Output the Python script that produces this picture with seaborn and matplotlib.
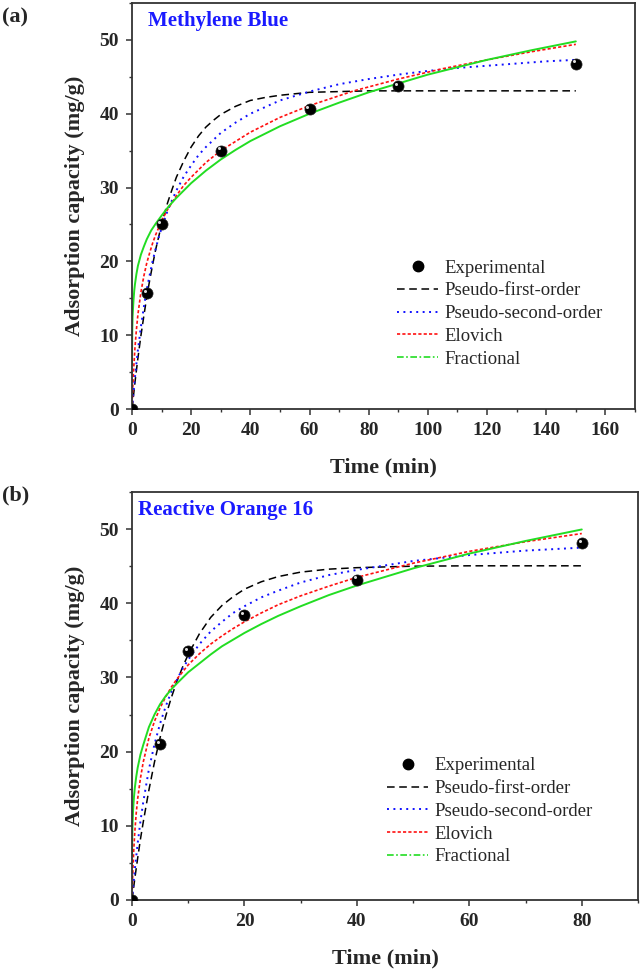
import matplotlib
matplotlib.use("Agg")
import matplotlib.pyplot as plt
import matplotlib.transforms as mtransforms
from matplotlib.lines import Line2D
from matplotlib.ticker import MultipleLocator
import seaborn as sns

sns.set_theme(style="ticks")
plt.rcParams['font.family'] = ['Liberation Serif', 'DejaVu Serif']
plt.rcParams['font.weight'] = 'bold'

# ---- panel (a): Methylene Blue ----
a_exp_t = [0, 5, 10, 30, 60, 90, 150]
a_exp_q = [0, 15.7, 25.0, 35.0, 40.6, 43.7, 46.8]

a_pfo_t = [0, 0.5, 1, 2, 3, 4, 5, 6, 7, 8, 9, 10, 11, 12, 13.5, 15, 17.5, 20, 22.5, 25,
           27.5, 30, 35, 40, 45, 50, 55, 60, 70, 80, 90, 110, 130, 150]
a_pfo_q = [0, 1.8, 3.6, 6.9, 9.9, 12.6, 15.2, 17.5, 19.6, 21.6, 23.3, 25.0, 26.5, 27.9,
           29.7, 31.4, 33.6, 35.5, 37.0, 38.2, 39.1, 39.9, 41.0, 41.8, 42.2, 42.5, 42.7,
           42.9, 43.0, 43.1, 43.1, 43.1, 43.1, 43.1]

a_pso_t = [0, 0.5, 1, 1.5, 2, 3, 4, 5, 6, 7, 8, 9, 10, 11.5, 13, 15, 17.5, 20, 22.5, 25,
           30, 35, 40, 45, 50, 60, 70, 80, 90, 100, 110, 120, 130, 140, 150]
a_pso_q = [0, 2.3, 4.3, 6.2, 8.0, 11.1, 13.8, 16.2, 18.2, 20.1, 21.7, 23.2, 24.5, 26.3,
           27.8, 29.6, 31.5, 33.0, 34.4, 35.5, 37.4, 38.8, 40.0, 40.9, 41.8, 43.0, 44.0,
           44.7, 45.3, 45.8, 46.2, 46.5, 46.8, 47.1, 47.3]

a_elo_t = [0, 0.25, 0.5, 1, 1.5, 2, 3, 4, 5, 6, 7, 8, 10, 12, 15, 17.5, 20, 25, 30, 40,
           50, 60, 75, 90, 105, 120, 135, 150]
a_elo_q = [0, 2.8, 5.0, 8.3, 10.8, 12.8, 15.8, 18.0, 19.8, 21.2, 22.5, 23.6, 25.5, 27.0,
           28.9, 30.3, 31.4, 33.4, 35.0, 37.5, 39.5, 41.1, 43.1, 44.7, 46.1, 47.3, 48.4, 49.4]

a_frac_t = [0.01, 0.03, 0.06, 0.1, 0.2, 0.34, 0.5, 0.75, 1, 1.5, 2, 3, 4, 5, 6.5, 8, 10,
            12.5, 15, 17.5, 20, 25, 30, 35, 40, 50, 60, 70, 80, 90, 100, 110, 120, 135, 150]
a_frac_q = [6.0, 8.0, 9.6, 10.8, 12.5, 13.6, 14.7, 16.0, 16.9, 18.3, 19.4, 20.9, 22.0,
            23.0, 24.2, 25.1, 26.2, 27.5, 28.6, 29.6, 30.6, 32.3, 33.8, 35.1, 36.3, 38.3,
            40.0, 41.5, 42.9, 44.1, 45.3, 46.3, 47.3, 48.6, 49.8]

# ---- panel (b): Reactive Orange 16 ----
b_exp_t = [0, 5, 10, 20, 40, 80]
b_exp_q = [0, 21.0, 33.6, 38.4, 43.2, 48.1]

b_pfo_t = [0, 0.5, 1, 1.5, 2, 3, 4, 5, 6, 7, 8, 9, 10, 12, 14, 16, 18, 20, 23, 26, 30,
           35, 40, 50, 60, 70, 80]
b_pfo_q = [0, 2.9, 5.6, 8.2, 10.5, 14.8, 18.6, 21.9, 24.8, 27.3, 29.5, 31.4, 33.1, 35.9,
           38.1, 39.7, 40.9, 41.9, 42.9, 43.6, 44.2, 44.6, 44.8, 45.0, 45.05, 45.05, 45.05]

b_pso_t = [0, 0.25, 0.5, 1, 1.5, 2, 3, 4, 5, 6, 7, 8, 9, 10, 12, 14, 16, 18, 20, 23, 26,
           30, 35, 40, 50, 60, 70, 80]
b_pso_q = [0, 2.1, 4.1, 7.6, 10.6, 13.2, 17.6, 21.0, 23.8, 26.1, 28.1, 29.7, 31.2, 32.4,
           34.5, 36.2, 37.5, 38.7, 39.6, 40.8, 41.7, 42.8, 43.8, 44.5, 45.7, 46.5, 47.1, 47.5]

b_elo_t = [0, 0.05, 0.1, 0.2, 0.35, 0.5, 0.75, 1, 1.5, 2, 3, 4, 5, 6, 7, 8, 10, 12, 14,
           16, 18, 20, 23, 26, 30, 35, 40, 50, 60, 70, 80]
b_elo_q = [0, 1.5, 2.8, 4.9, 7.3, 9.2, 11.7, 13.6, 16.4, 18.6, 21.8, 24.1, 25.9, 27.4,
           28.7, 29.8, 31.7, 33.2, 34.5, 35.6, 36.6, 37.5, 38.7, 39.8, 41.0, 42.3, 43.5,
           45.4, 47.0, 48.3, 49.4]

b_frac_t = [0.01, 0.03, 0.06, 0.1, 0.2, 0.35, 0.5, 0.75, 1, 1.5, 2, 3, 4, 5, 6, 7, 8, 10,
            12, 14, 16, 18, 20, 23, 26, 30, 35, 40, 50, 60, 70, 80]
b_frac_q = [6.0, 7.8, 9.2, 10.3, 12.2, 13.9, 15.1, 16.6, 17.8, 19.6, 20.9, 23.3, 25.0,
            26.4, 27.5, 28.4, 29.2, 30.7, 31.9, 33.1, 34.2, 35.1, 36.0, 37.2, 38.3, 39.6,
            41.1, 42.4, 44.7, 46.7, 48.4, 49.95]

labels = ["Experimental", "Pseudo-first-order", "Pseudo-second-order", "Elovich", "Fractional"]

pfo_style = dict(color="black", linestyle=(0, (5, 3)), linewidth=1.1)
pso_style = dict(color="#1010ff", linestyle=(0, (1, 2.3)), linewidth=1.4)
elo_style = dict(color="#ff1010", linestyle=(0, (1.9, 1.3)), linewidth=1.2)
frac_style = dict(color="#22dd22", linestyle="-", linewidth=1.4)

fig = plt.figure(figsize=(6.41, 9.73), dpi=100)
W, H = 641, 973
ax_a = fig.add_axes([132 / W, 1 - 409 / H, 503 / W, 406 / H])
ax_b = fig.add_axes([132 / W, 1 - 900 / H, 506 / W, 408 / H])


def draw(ax, exp_t, exp_q, curves, xmax, title, title_x, leg_xy):
    for t, q, st in curves:
        sns.lineplot(x=t, y=q, ax=ax, sort=False, legend=False, **st)
    sns.scatterplot(x=exp_t, y=exp_q, ax=ax, color="black", s=64,
                    edgecolor="#222222", linewidth=0.5, zorder=5, legend=False)
    # little highlight on the spheres
    shift = mtransforms.ScaledTranslation(-1.6 / 72, 1.6 / 72, fig.dpi_scale_trans)
    ax.plot(exp_t, exp_q, "o", color="#dddddd", ms=2.2, mew=0,
            transform=ax.transData + shift, zorder=6)

    ax.set_xlim(0, xmax)
    ax.set_ylim(0, 55)
    ax.xaxis.set_major_locator(MultipleLocator(20))
    ax.xaxis.set_minor_locator(MultipleLocator(10))
    ax.yaxis.set_major_locator(MultipleLocator(10))
    ax.yaxis.set_minor_locator(MultipleLocator(5))
    ax.tick_params(which="major", direction="out", length=4.5, width=1.1,
                   labelsize=14, pad=5, top=False, right=False, color="#333333")
    ax.tick_params(which="minor", direction="out", length=2.5, width=1.0,
                   top=False, right=False, color="#333333")
    for s in ax.spines.values():
        s.set_color("#333333")
        s.set_linewidth(1.3)
    ax.set_xlabel("Time (min)", fontsize=16, fontweight="bold", labelpad=13)
    ax.set_ylabel("Adsorption capacity (mg/g)", fontsize=16, fontweight="bold", labelpad=10)
    ax.text(title_x, 0.955, title, transform=ax.transAxes, color="#1a1aff",
            fontsize=15, fontweight="bold", va="center", ha="left")

    handles = [Line2D([], [], marker="o", color="black", linestyle="none", markersize=7.5)]
    for _, _, st in curves[:-1]:
        handles.append(Line2D([], [], **st))
    handles.append(Line2D([], [], color=frac_style["color"],
                          linestyle=(0, (4, 1.5, 1, 1.5)), linewidth=1.2))
    ax.legend(handles, labels, loc="upper left", bbox_to_anchor=leg_xy, frameon=False,
              prop={"weight": "normal", "size": 13.5}, handlelength=2.2,
              handletextpad=0.35, labelspacing=0.3, borderpad=0, borderaxespad=0)


draw(ax_a, a_exp_t, a_exp_q,
     [(a_pfo_t, a_pfo_q, pfo_style), (a_pso_t, a_pso_q, pso_style),
      (a_elo_t, a_elo_q, elo_style), (a_frac_t, a_frac_q, frac_style)],
     170, "Methylene Blue", 0.032, (0.527, 0.368))
draw(ax_b, b_exp_t, b_exp_q,
     [(b_pfo_t, b_pfo_q, pfo_style), (b_pso_t, b_pso_q, pso_style),
      (b_elo_t, b_elo_q, elo_style), (b_frac_t, b_frac_q, frac_style)],
     90, "Reactive Orange 16", 0.012, (0.504, 0.35))

fig.text(2 / W, 1 - 17 / H, "(a)", fontsize=16, fontweight="bold", va="center", ha="left")
fig.text(2 / W, 1 - 495 / H, "(b)", fontsize=16, fontweight="bold", va="center", ha="left")

fig.savefig("out.png", dpi=100)
